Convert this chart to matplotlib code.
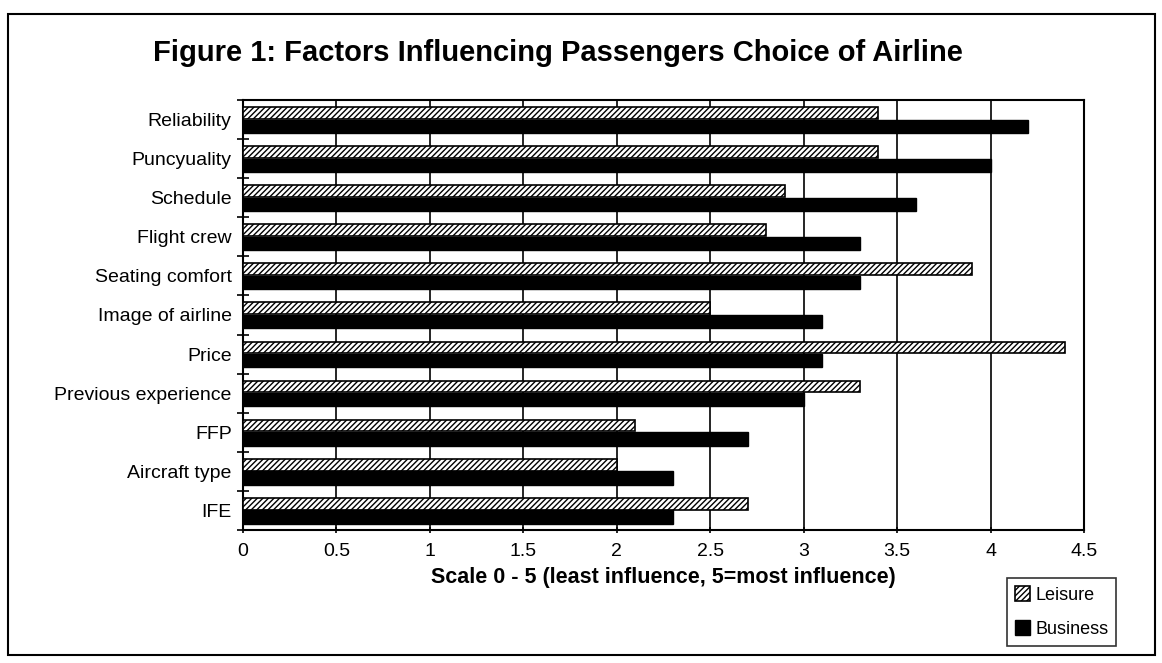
import numpy as np
import matplotlib.pyplot as plt
from matplotlib.patches import Rectangle

plt.rcParams['font.family'] = ['Liberation Sans', 'DejaVu Sans']
plt.rcParams['hatch.linewidth'] = 1.0

factors = ["Reliability", "Puncyuality", "Schedule", "Flight crew", "Seating comfort",
           "Image of airline", "Price", "Previous experience", "FFP", "Aircraft type", "IFE"]
leisure = [3.4, 3.4, 2.9, 2.8, 3.9, 2.5, 4.4, 3.3, 2.1, 2.0, 2.7]
business = [4.2, 4.0, 3.6, 3.3, 3.3, 3.1, 3.1, 3.0, 2.7, 2.3, 2.3]
xticks = [0, 0.5, 1, 1.5, 2, 2.5, 3, 3.5, 4, 4.5]

fig = plt.figure(figsize=(11.62, 6.63), dpi=100)
ax = fig.add_axes([0.209, 0.2006, 0.724, 0.6486])

y = np.arange(len(factors))
h = 0.3
ax.barh(y - h / 2 - 0.02, leisure, height=h, color='white', edgecolor='black',
        hatch='//////', linewidth=1.2, label='Leisure', zorder=3)
ax.barh(y + h / 2 + 0.02, business, height=h + 0.04, color='black', edgecolor='black',
        label='Business', zorder=3)

ax.set_ylim(len(factors) - 0.5, -0.5)
ax.set_xlim(0, 4.5)
ax.set_xticks(xticks)
ax.set_xticklabels([f"{t:g}" for t in xticks], fontsize=14)
ax.set_yticks(y)
ax.set_yticklabels(factors, fontsize=14)
ax.set_yticks(np.arange(len(factors) + 1) - 0.5, minor=True)
ax.tick_params(axis='y', which='major', length=0, pad=8)
ax.tick_params(axis='y', which='minor', length=8, direction='inout', width=1.2)
ax.tick_params(axis='x', length=5, direction='inout', width=1.2, pad=7)
ax.grid(axis='x', color='black', linewidth=1.2, zorder=0)
for s in ax.spines.values():
    s.set_linewidth(1.5)

ax.set_xlabel("Scale 0 - 5 (least influence, 5=most influence)", fontsize=15.5,
              fontweight='bold', labelpad=5)
fig.text(0.48, 0.92, "Figure 1: Factors Influencing Passengers Choice of Airline",
         ha='center', va='center', fontsize=21, fontweight='bold')

leg = fig.legend(loc='upper left', bbox_to_anchor=(0.859, 0.142), fontsize=13,
                 frameon=True, fancybox=False, edgecolor='black', handlelength=0.8,
                 handleheight=0.9, handletextpad=0.3, borderpad=0.45, labelspacing=0.9)
leg.get_frame().set_linewidth(1.2)

fig.patches.append(Rectangle((0.007, 0.012), 0.987, 0.967, transform=fig.transFigure,
                             fill=False, edgecolor='black', linewidth=1.5))

fig.savefig('out.png', dpi=100)
